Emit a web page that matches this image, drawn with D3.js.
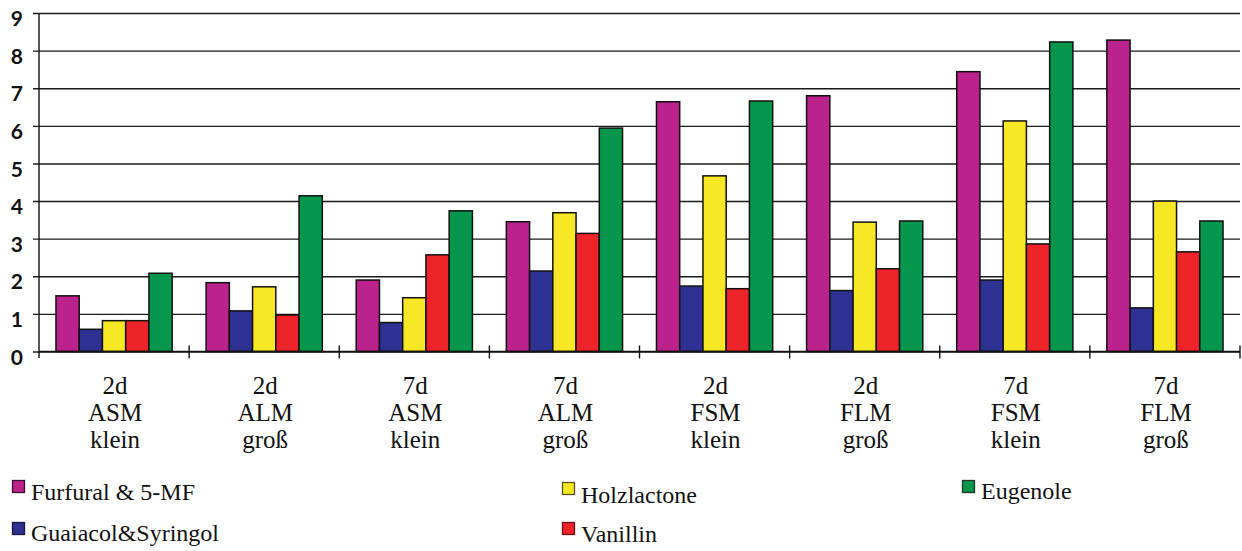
<!DOCTYPE html>
<html>
<head>
<meta charset="utf-8">
<script src="https://cdn.jsdelivr.net/npm/d3@7"></script>
<style>
  html, body { margin: 0; padding: 0; background: #fff; }
  svg { display: block; }
  .serif { font-family: "Liberation Serif", "DejaVu Serif", "Noto Serif", serif; }
  .ytick { font-family: Lato, "Open Sans", "DejaVu Sans", sans-serif; font-weight: 700; }
</style>
</head>
<body>
<script>
const categories = [
  ["2d", "ASM", "klein"],
  ["2d", "ALM", "groß"],
  ["7d", "ASM", "klein"],
  ["7d", "ALM", "groß"],
  ["2d", "FSM", "klein"],
  ["2d", "FLM", "groß"],
  ["7d", "FSM", "klein"],
  ["7d", "FLM", "groß"]
];
const seriesNames = ["Furfural & 5-MF", "Guaiacol&Syringol", "Holzlactone", "Vanillin", "Eugenole"];
const furfural = [1.48, 1.83, 1.90, 3.45, 6.64, 6.80, 7.44, 8.28];
const guaiacol = [0.59, 1.08, 0.77, 2.14, 1.74, 1.62, 1.90, 1.16];
const holzlactone = [0.82, 1.72, 1.43, 3.69, 4.67, 3.44, 6.13, 4.00];
const vanillin = [0.82, 0.97, 2.57, 3.14, 1.67, 2.20, 2.86, 2.65];
const eugenole = [2.08, 4.14, 3.74, 5.94, 6.66, 3.47, 8.23, 3.47];
const yTicks = [0, 1, 2, 3, 4, 5, 6, 7, 8, 9];
const colors = ["#bb228b", "#2e3191", "#f7e725", "#ee2229", "#07974c"];
const swatchBorders = ["#3a1030", "#15163f", "#5a5420", "#6a1014", "#1f3a25"];

const seriesValues = [furfural, guaiacol, holzlactone, vanillin, eugenole];

(function () {
const W = 1242, H = 551;
const svg = d3.select("body").append("svg").attr("width", W).attr("height", H);

const pLeft = 39, pRight = 1240, pTop = 13, pBottom = 351.5;
const catIdx = categories.map((d, i) => i);
const x0 = d3.scaleBand().domain(catIdx).range([pLeft, pRight]).paddingInner(0).paddingOuter(0);
const x1 = d3.scaleBand().domain(d3.range(seriesNames.length)).range([0, x0.bandwidth()]).paddingInner(0).paddingOuter(0.73);
const y = d3.scaleLinear().domain([0, 9]).range([pBottom, pTop]);

// gridlines + y ticks
const yAxis = d3.axisLeft(y).tickValues(yTicks).tickSize(-(pRight - pLeft)).tickSizeOuter(0).tickPadding(16);
const gy = svg.append("g").attr("transform", `translate(${pLeft},0)`).call(yAxis);
gy.attr("font-family", null).attr("font-size", null);
gy.select(".domain").remove();
gy.selectAll(".tick line").attr("stroke", "#1a1a1a").attr("stroke-width", 1.4).attr("x1", -6);
gy.selectAll(".tick text")
  .attr("class", "ytick")
  .style("font-size", "21px")
  .attr("fill", "#111")
  .attr("y", 5)
  .attr("dy", "0.36em");

// bars
const groups = svg.append("g").selectAll("g").data(catIdx).join("g")
  .attr("transform", d => `translate(${x0(d)},0)`);
groups.selectAll("rect")
  .data(ci => seriesValues.map((vals, si) => ({si, v: vals[ci]})))
  .join("rect")
  .attr("x", d => x1(d.si))
  .attr("width", x1.bandwidth())
  .attr("y", d => y(d.v))
  .attr("height", d => y(0) - y(d.v))
  .attr("fill", d => colors[d.si])
  .attr("stroke", "#111")
  .attr("stroke-width", 1.5);

// y axis line
svg.append("line").attr("x1", pLeft).attr("x2", pLeft).attr("y1", pTop).attr("y2", 358)
  .attr("stroke", "#111").attr("stroke-width", 1.4);

// x axis
const xAxisG = svg.append("g").attr("transform", `translate(0,${pBottom})`);
xAxisG.append("line").attr("x1", pLeft).attr("x2", pRight).attr("stroke", "#111").attr("stroke-width", 1.4);
const boundaries = catIdx.map(i => x0(i)).concat([x0(catIdx[catIdx.length - 1]) + x0.bandwidth()]);
xAxisG.selectAll("line.tk").data(boundaries.slice(1)).join("line").attr("class", "tk")
  .attr("x1", d => d).attr("x2", d => d).attr("y1", -6).attr("y2", 7)
  .attr("stroke", "#111").attr("stroke-width", 1.4);

// category labels
const labG = svg.append("g");
categories.forEach((lines, i) => {
  const cx = x0(i) + x0.bandwidth() / 2 + 1;
  const t = labG.append("text")
    .attr("class", "serif")
    .attr("text-anchor", "middle")
    .style("font-size", "25px")
    .attr("fill", "#111");
  lines.forEach((ln, k) => {
    t.append("tspan").attr("x", cx).attr("y", 394 + k * 27).text(ln);
  });
});

// legend
const legendPos = [
  {x: 12, y: 480, ty: 500},
  {x: 12, y: 522, ty: 541},
  {x: 562, y: 482, ty: 503},
  {x: 562, y: 522, ty: 542},
  {x: 962, y: 480, ty: 499}
];
const lg = svg.append("g");
seriesNames.forEach((name, i) => {
  const p = legendPos[i];
  lg.append("rect").attr("x", p.x + 0.5).attr("y", p.y + 0.5).attr("width", 12).attr("height", 12)
    .attr("fill", colors[i]).attr("stroke", swatchBorders[i]).attr("stroke-width", 1.3);
  lg.append("text").attr("class", "serif").attr("x", p.x + 19).attr("y", p.ty)
    .style("font-size", "24px").attr("fill", "#111").text(name);
});
})();
</script>
</body>
</html>
